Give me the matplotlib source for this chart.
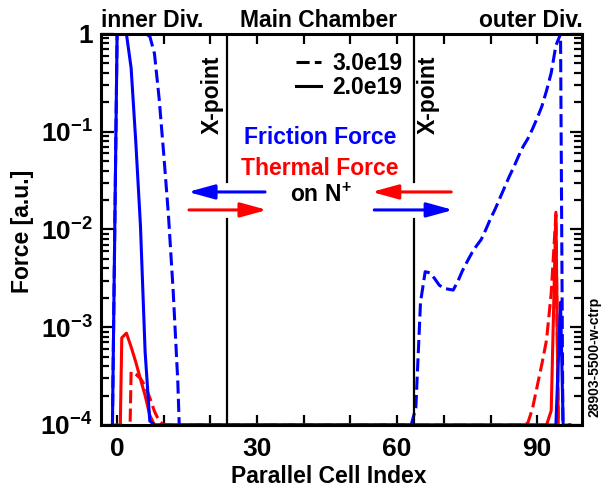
import numpy as np
import matplotlib
matplotlib.use('Agg')
import matplotlib.pyplot as plt
from matplotlib.lines import Line2D
from matplotlib.patches import FancyArrowPatch
from matplotlib.ticker import FixedLocator, LogLocator, NullFormatter

plt.rcParams['font.family'] = ['Liberation Sans', 'DejaVu Sans']
plt.rcParams['font.weight'] = 'bold'
plt.rcParams['mathtext.fontset'] = 'custom'
plt.rcParams['mathtext.rm'] = 'Liberation Sans:bold'
plt.rcParams['mathtext.bf'] = 'Liberation Sans:bold'
plt.rcParams['mathtext.it'] = 'Liberation Sans:bold'
plt.rcParams['mathtext.default'] = 'rm'

# friction force, 2.0e19 (solid blue)
fric20_cell = [-1, 0, 1, 2, 3, 4, 5, 6, 7, 8, 94, 95, 96, 97]
fric20_force = [1e-4, 1.0, 1.0, 1.0, 0.45, 0.079, 0.011, 5.6e-4, 1.1e-4, 1e-4,
                1e-4, 1.8e-3, 1e-5, 1e-4]

# friction force, 3.0e19 (dashed blue)
fric30_cell = [-1, 0, 1, 2, 3, 4, 5, 6, 7, 8, 9, 10, 11, 12, 13, 14, 15,
               63, 64, 65, 66, 67, 68, 69, 70, 71, 72, 73, 74, 75, 76, 77, 78,
               79, 80, 81, 82, 83, 84, 85, 86, 87, 88, 89, 90, 91, 92, 93, 94,
               95, 96, 97]
fric30_force = [1e-4, 1.0, 1.0, 1.0, 1.0, 1.0, 1.0, 1.0, 0.95, 0.63, 0.22,
                0.058, 0.014, 2.4e-3, 2.8e-4, 1e-5, 1e-4,
                1e-4, 1.5e-4, 1.8e-3, 3.7e-3, 3.6e-3, 3.16e-3, 2.7e-3, 2.5e-3,
                2.45e-3, 2.4e-3, 2.95e-3, 3.8e-3, 4.7e-3, 5.75e-3, 6.8e-3,
                7.9e-3, 0.010, 0.0129, 0.0162, 0.0209, 0.0269, 0.0347, 0.0437,
                0.0562, 0.0708, 0.085, 0.107, 0.138, 0.182, 0.263, 0.40, 0.76,
                1.0, 1e-8, 1e-4]

# thermal force, 2.0e19 (solid red)
therm20_cell = [-1, 0, 1, 2, 3, 4, 5, 6, 7, 8, 92, 93, 94, 95, 96, 97]
therm20_force = [1e-4, 1e-6, 7.8e-4, 8.7e-4, 6.3e-4, 4.4e-4, 2.95e-4, 2.0e-4,
                 1.26e-4, 1e-4, 1e-4, 1.4e-4, 0.015, 1e-6, 1e-4, 1e-4]

# thermal force, 3.0e19 (dashed red)
therm30_cell = [-1, 0, 1, 2, 3, 4, 5, 6, 7, 8, 9, 10,
                87, 88, 89, 90, 91, 92, 93, 94, 95, 96, 97]
therm30_force = [1e-4, 1e-4, 1e-4, 1e-6, 3.5e-4, 3.3e-4, 3.0e-4, 2.5e-4,
                 1.9e-4, 1.38e-4, 1.1e-4, 1e-4,
                 1e-4, 1.05e-4, 1.48e-4, 2.5e-4, 4.2e-4, 7.4e-4, 2.24e-3,
                 0.0141, 1e-6, 1e-4, 1e-4]

xpoint_cells = [23.5, 63.5]
ytick_vals = [1e-4, 1e-3, 1e-2, 1e-1, 1]
ytick_labels = [r'$10^{-4}$', r'$10^{-3}$', r'$10^{-2}$', r'$10^{-1}$', '1']
xtick_vals = [0, 30, 60, 90]

dash = (0, (4.3, 1.7))

fig = plt.figure(figsize=(6.03, 4.94), dpi=100)
ax = fig.add_axes([0.1675, 0.1397, 0.7977, 0.7915])

ax.plot(therm30_cell, therm30_force, color='#ff0000', lw=2.2, linestyle=dash)
ax.plot(therm20_cell, therm20_force, color='#ff0000', lw=2.2)
ax.plot(fric30_cell, fric30_force, color='#0000ff', lw=2.2, linestyle=dash)
ax.plot(fric20_cell, fric20_force, color='#0000ff', lw=2.2)

ax.set_yscale('log')
ax.set_ylim(1e-4, 1)
ax.set_xlim(-3.45, 99.6)

# X-point lines, broken where the arrows sit
for xp in xpoint_cells:
    ax.axvline(xp, ymin=0.621, ymax=1, color='black', lw=1.6)
    ax.axvline(xp, ymin=0, ymax=0.527, color='black', lw=1.6)

ax.text(0.231, 0.844, 'X-point', transform=ax.transAxes, rotation=90,
        ha='center', va='center', fontsize=16.5)
ax.text(0.680, 0.844, 'X-point', transform=ax.transAxes, rotation=90,
        ha='center', va='center', fontsize=16.5)

ax.text(0.456, 0.734, 'Friction Force', transform=ax.transAxes, color='#0000ff',
        ha='center', va='center', fontsize=16.5)
ax.text(0.455, 0.657, 'Thermal Force', transform=ax.transAxes, color='#ff0000',
        ha='center', va='center', fontsize=16.5)
ax.text(0.457, 0.588, r'on N$^{+}$', transform=ax.transAxes, color='black',
        ha='center', va='center', fontsize=16.5)


def draw_arrow(x0, x1, y, color):
    ax.add_patch(FancyArrowPatch((x0, y), (x1, y), transform=ax.transAxes,
                                 arrowstyle='-|>,head_length=0.8,head_width=0.22',
                                 mutation_scale=20, color=color, lw=2.2,
                                 shrinkA=0, shrinkB=0, clip_on=False))


draw_arrow(0.341, 0.181, 0.596, '#0000ff')
draw_arrow(0.183, 0.345, 0.550, '#ff0000')
draw_arrow(0.728, 0.563, 0.596, '#ff0000')
draw_arrow(0.568, 0.732, 0.550, '#0000ff')

handles = [Line2D([], [], color='black', lw=2.2, linestyle=dash),
           Line2D([], [], color='black', lw=2.2)]
ax.legend(handles, ['3.0e19', '2.0e19'], loc='upper left',
          bbox_to_anchor=(0.405, 0.955), frameon=False, fontsize=16.5,
          handlelength=1.1, handletextpad=0.5, labelspacing=0.05,
          borderpad=0, borderaxespad=0)

# axes styling
for sp in ax.spines.values():
    sp.set_linewidth(2.2)
ax.xaxis.set_major_locator(FixedLocator(xtick_vals))
ax.xaxis.set_minor_locator(FixedLocator([10, 20, 40, 50, 70, 80]))
ax.yaxis.set_major_locator(FixedLocator(ytick_vals))
ax.set_yticklabels(ytick_labels)
ax.yaxis.set_minor_locator(LogLocator(base=10, subs=np.arange(2, 10)))
ax.yaxis.set_minor_formatter(NullFormatter())
ax.tick_params(which='both', direction='in', top=True, right=True,
               labelsize=19)
ax.tick_params(axis='x', which='both', length=7, width=1.6, pad=9)
ax.tick_params(axis='y', which='major', length=9, width=1.6, pad=6)
ax.tick_params(axis='y', which='minor', length=5.5, width=1.6)

fig.text(101 / 603, 1 - 27 / 494, 'inner Div.', ha='left', va='baseline',
         fontsize=16.5)
fig.text(318.5 / 603, 1 - 27 / 494, 'Main Chamber', ha='center', va='baseline',
         fontsize=16.5)
fig.text(583 / 603, 1 - 27 / 494, 'outer Div.', ha='right', va='baseline',
         fontsize=16.5)
fig.text(329 / 603, 1 - 483 / 494, 'Parallel Cell Index', ha='center',
         va='baseline', fontsize=16.5)
fig.text(22 / 603, 1 - 231 / 494, 'Force [a.u.]', rotation=90, ha='center',
         va='center', fontsize=16.5)
fig.text(595 / 603, 1 - 357 / 494, '28903-5500-w-ctrp', rotation=90,
         ha='center', va='center', fontsize=10)

fig.savefig('out.png', dpi=100)
